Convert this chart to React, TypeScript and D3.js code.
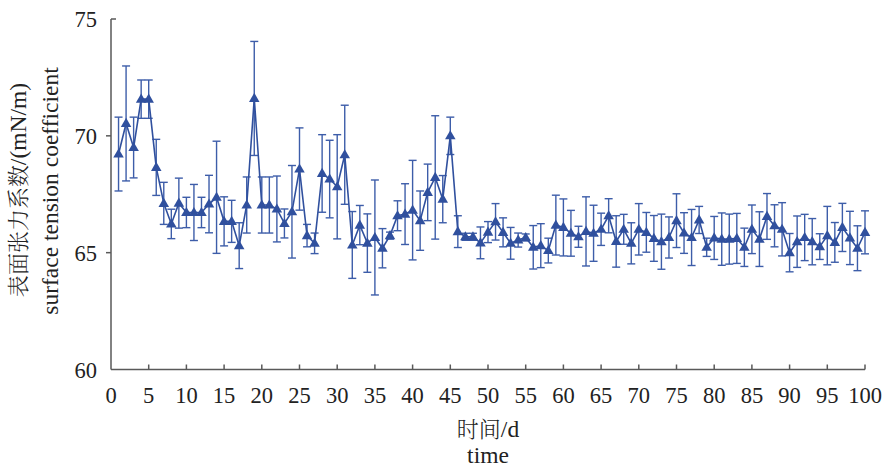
import React from "react";
import * as d3 from "d3";

const days: number[] = Array.from({ length: 100 }, (_, i) => i + 1);
const tensionMean: number[] = [
  69.22, 70.53, 69.5, 71.57, 71.57, 68.65, 67.11, 66.23, 67.12, 66.72,
  66.72, 66.72, 67.08, 67.37, 66.34, 66.34, 65.3, 67.04, 71.6, 67.04,
  67.04, 66.87, 66.25, 66.75, 68.58, 65.73, 65.4, 68.39, 68.15, 67.82,
  69.19, 65.33, 66.18, 65.41, 65.65, 65.19, 65.73, 66.58, 66.65, 66.82,
  66.37, 67.58, 68.22, 67.29, 70.0, 65.9, 65.68, 65.68, 65.42, 65.88,
  66.32, 65.87, 65.4, 65.54, 65.65, 65.23, 65.3, 65.09, 66.18, 66.08,
  65.83, 65.68, 65.91, 65.83, 66.0, 66.58, 65.48, 66.0, 65.4, 66.0,
  65.87, 65.61, 65.47, 65.65, 66.37, 65.84, 65.65, 66.4, 65.23, 65.63,
  65.58, 65.58, 65.61, 65.23, 66.0, 65.58, 66.55, 66.15, 66.0, 65.0,
  65.47, 65.65, 65.47, 65.26, 65.73, 65.44, 66.08, 65.63, 65.19, 65.87,
];
const tensionErr: number[] = [
  1.58, 2.46, 1.3, 0.82, 0.82, 1.2, 0.9, 0.63, 1.07, 0.65,
  1.2, 0.65, 1.23, 2.4, 1.05, 0.9, 0.98, 1.2, 2.44, 1.2,
  1.2, 1.41, 0.62, 1.98, 1.76, 0.48, 0.44, 1.66, 1.66, 2.23,
  2.12, 1.43, 0.84, 1.25, 2.46, 0.84, 0.15, 0.64, 1.3, 2.13,
  1.27, 1.21, 2.64, 1.01, 0.8, 0.68, 0.15, 0.15, 0.68, 0.45,
  0.78, 0.62, 0.68, 0.3, 0.15, 0.93, 0.94, 0.53, 1.28, 1.22,
  0.98, 0.45, 1.48, 1.2, 0.69, 0.73, 1.1, 0.64, 0.88, 1.1,
  0.85, 0.98, 1.18, 0.88, 1.15, 0.87, 1.2, 0.58, 0.39, 0.92,
  1.12, 1.07, 1.07, 0.82, 1.04, 1.17, 0.98, 0.9, 1.14, 0.82,
  1.1, 0.99, 0.99, 0.55, 1.25, 0.85, 1.03, 1.14, 0.96, 0.92,
];
const xTicks: number[] = [0, 5, 10, 15, 20, 25, 30, 35, 40, 45, 50, 55, 60, 65, 70, 75, 80, 85, 90, 95, 100];
const yTicks: number[] = [60, 65, 70, 75];
const xTitleCn = "时间";
const xTitleUnit = "/d";
const xTitleEn = "time";
const yTitleCn = "表面张力系数";
const yTitleUnit = "/(mN/m)";
const yTitleEn = "surface tension coefficient";

const W = 885;
const H = 469;
const FONT = "'Liberation Serif', 'Times New Roman', serif";
const CJK = "'Noto Serif CJK SC', 'Noto Sans CJK SC', sans-serif";
const AXIS = "#595959";
const BLUE = "#30509e";
const ERRC = "#3d5da9";

export default function App() {
  const x = d3.scaleLinear().domain([0, 100]).range([111, 865]);
  const y = d3.scaleLinear().domain([60, 75]).range([369.5, 19]);
  const pts = days.map((d, i) => ({ d, v: tensionMean[i], e: tensionErr[i] }));
  const line = d3
    .line<{ d: number; v: number }>()
    .x((p) => x(p.d))
    .y((p) => y(p.v));
  const tri = d3.symbol().type(d3.symbolTriangle).size(48)();
  const cap = 4;
  const x0 = x(0);
  const yb = y(60);

  return (
    <svg
      width={W}
      height={H}
      style={{ position: "absolute", left: 0, top: 0, background: "#fff" }}
      fontFamily={FONT}
    >
      <rect x={0} y={0} width={W} height={H} fill="#fff" />
      <g stroke={ERRC} strokeWidth={1.4} fill="none">
        {pts.map((p) => {
          const cx = x(p.d);
          const t = y(p.v + p.e);
          const b = y(p.v - p.e);
          return (
            <g key={p.d}>
              <line x1={cx} x2={cx} y1={t} y2={b} />
              <line x1={cx - cap} x2={cx + cap} y1={t} y2={t} />
              <line x1={cx - cap} x2={cx + cap} y1={b} y2={b} />
            </g>
          );
        })}
      </g>
      <path d={line(pts) || ""} fill="none" stroke={BLUE} strokeWidth={1.6} />
      <g fill={BLUE}>
        {pts.map((p) => (
          <path key={p.d} d={tri || ""} transform={`translate(${x(p.d)},${y(p.v) + 0.5})`} />
        ))}
      </g>
      <g stroke={AXIS} strokeWidth={1.5} fill="none">
        <line x1={x0} x2={x0} y1={y(75)} y2={yb} />
        <line x1={x0} x2={x(100)} y1={yb} y2={yb} />
        {xTicks.filter((t) => t > 0).map((t) => (
          <line key={t} x1={x(t)} x2={x(t)} y1={yb} y2={yb - 5} />
        ))}
        {yTicks.filter((t) => t > 60).map((t) =>
          t === 75 ? (
            <line key={t} x1={x0} x2={x0 + 5} y1={y(t)} y2={y(t)} />
          ) : (
            <line key={t} x1={x0 - 5} x2={x0} y1={y(t)} y2={y(t)} />
          )
        )}
      </g>
      <g fontSize={22.5} fill="#222">
        {xTicks.map((t) => (
          <text key={t} x={x(t)} y={403} textAnchor="middle">
            {t}
          </text>
        ))}
        {yTicks.map((t) => (
          <text key={t} x={97} y={y(t) + 8} textAnchor="end">
            {t}
          </text>
        ))}
      </g>
      <g fontSize={23.5} fill="#222" textAnchor="middle">
        <text x={488} y={437}>
          <tspan fontFamily={CJK} fontWeight={300} fontSize={22}>{xTitleCn}</tspan>
          <tspan>{xTitleUnit}</tspan>
        </text>
        <text x={488} y={463}>{xTitleEn}</text>
        <text transform="translate(26,190) rotate(-90)">
          <tspan fontFamily={CJK} fontWeight={300} fontSize={22}>{yTitleCn}</tspan>
          <tspan>{yTitleUnit}</tspan>
        </text>
        <text transform="translate(58,191) rotate(-90)">{yTitleEn}</text>
      </g>
    </svg>
  );
}
